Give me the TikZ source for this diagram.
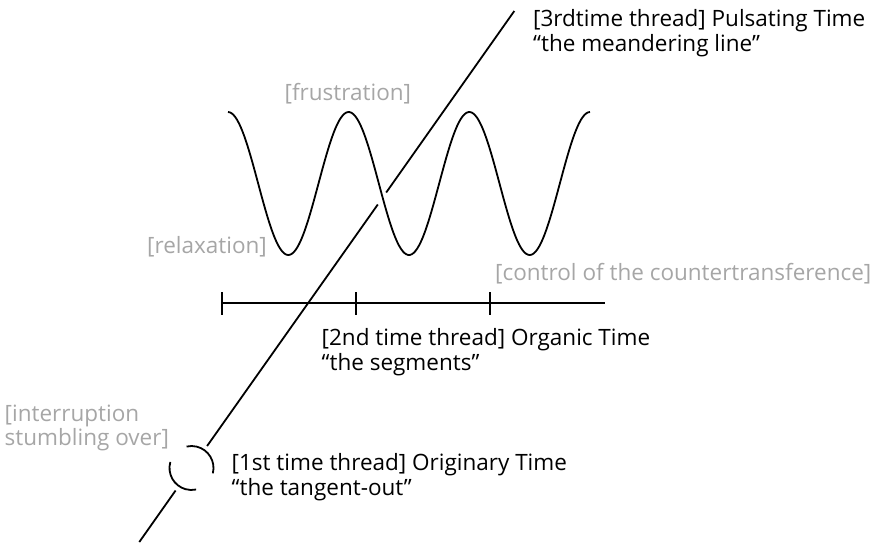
\documentclass[tikz,border=0pt]{standalone}
\usepackage{fontspec}
\setmainfont{Open Sans}
\definecolor{lbl}{HTML}{A6A6A6}
\begin{document}
\begin{tikzpicture}[x=1pt,y=-1pt,
  curve/.style={line width=1.8pt,black},
  blk/.style={inner sep=0pt,anchor=base west,align=left,font=\fontsize{22.5}{24.5}\selectfont,text=black},
  gry/.style={blk,text=lbl}]
\useasboundingbox (0,0) rectangle (879,542);
% main diagonal line (segments)
\coordinate (d0) at (139.3,542);
\coordinate (d1) at (175.6,490.5);
\coordinate (d2) at (207.1,446);
\coordinate (d3) at (377.8,204.5);
\coordinate (d4) at (386.2,192.5);
\coordinate (d5) at (514.3,11);
\coordinate (c) at (191.5,468);
\draw[curve] (d0) -- (d1);
\draw[curve] (d2) -- (d3);
\draw[curve] (d4) -- (d5);
% broken circle
\draw[curve] ([shift={(14:22)}]c) arc[start angle=14,end angle=-103,radius=22];
\draw[curve] ([shift={(-164:22)}]c) arc[start angle=-164,end angle=-282,radius=22];
% wave
\draw[curve,smooth,samples=200,domain=0:362] plot ({228+\x},{183.5-71.5*cos(2.9834*\x)});
% segments line
\coordinate (h0) at (221.7,303);
\coordinate (h1) at (355.7,303);
\coordinate (h2) at (490,303);
\coordinate (h3) at (605,303);
\draw[curve] (h0) -- (h3);
\foreach \p in {h0,h1,h2}{\draw[curve] ([yshift=-11.5pt]\p) -- ([yshift=11.5pt]\p);}
% labels
\node[blk] (t3) at (533,51) {[3rdtime thread] Pulsating Time\\“the meandering line”};
\node[gry] (fr) at (284.5,100.5) {[frustration]};
\node[gry] (rl) at (147,253) {[relaxation]};
\node[gry] (ct) at (495,280) {[control of the countertransference]};
\node[blk] (t2) at (321.5,370) {[2nd time thread] Organic Time\\“the segments”};
\node[gry] (it) at (4.5,445.7) {[interruption\\stumbling over]};
\node[blk] (t1) at (231.5,495) {[1st time thread] Originary Time\\“the tangent-out”};
\end{tikzpicture}
\end{document}
